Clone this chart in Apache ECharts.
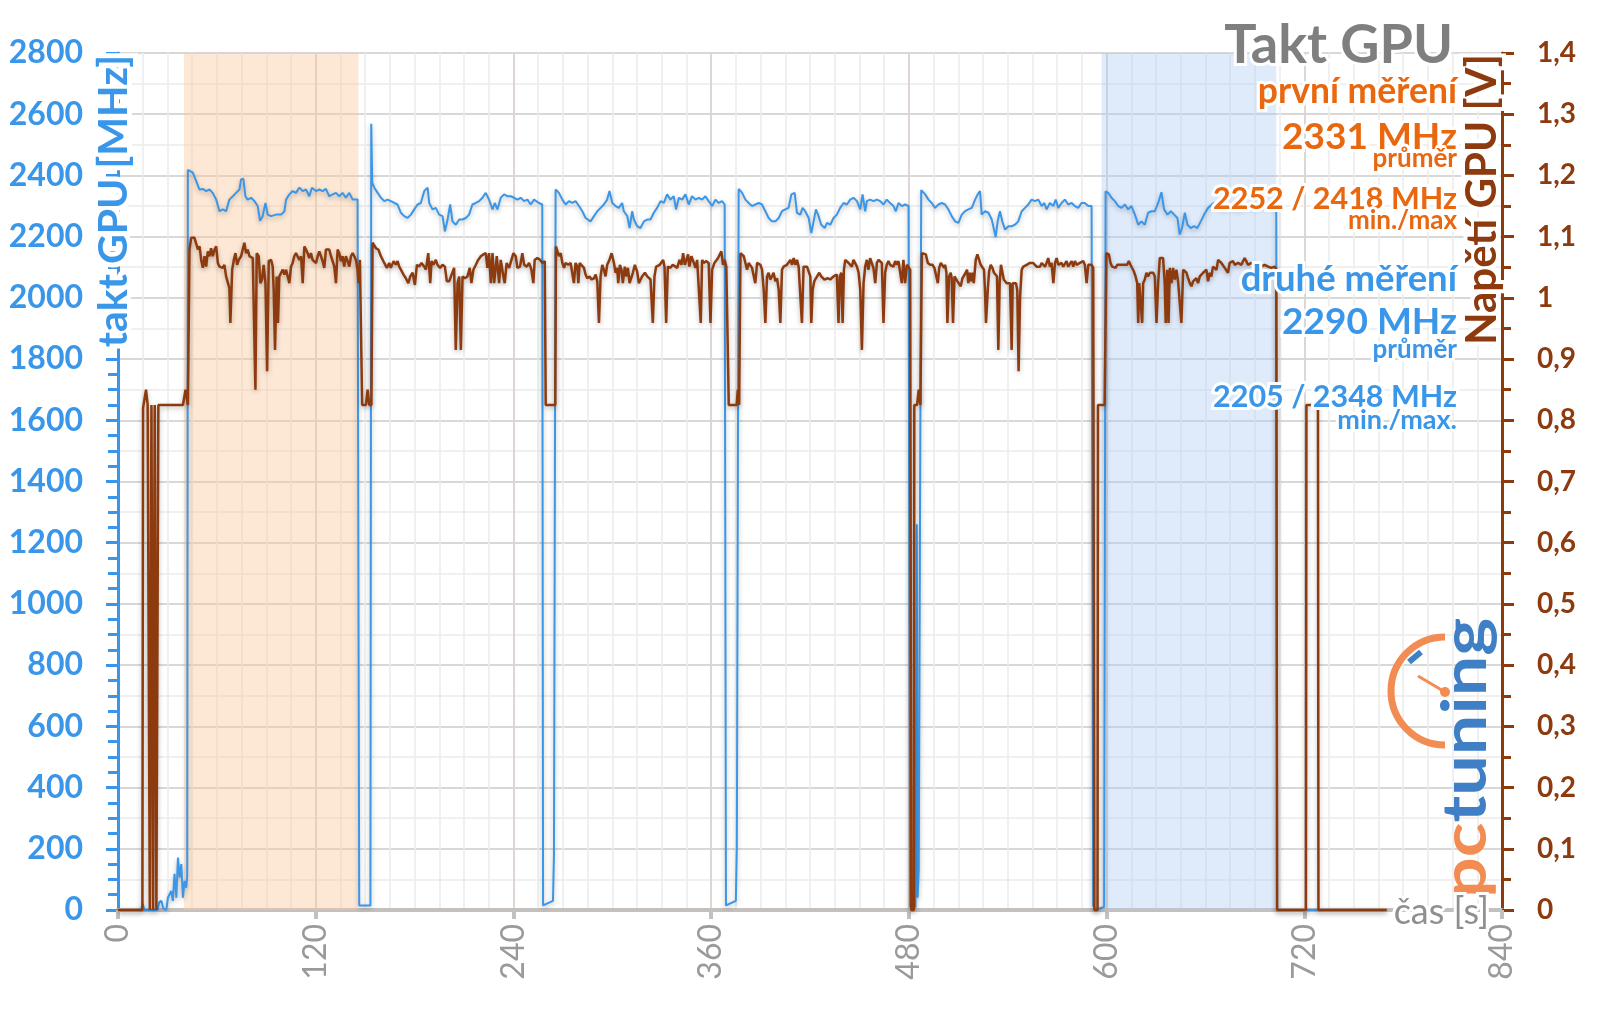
<!DOCTYPE html>
<html><head><meta charset="utf-8">
<script src="https://cdn.jsdelivr.net/npm/echarts@6/dist/echarts.min.js"></script>
<style>html,body{margin:0;padding:0;background:#fff}#chart{width:1600px;height:1009px}</style>
</head><body><div id="chart"></div>
<script>
// ---- data (time [s], value) ----
const clockSamples = [
[0,0],[14,0],[15,20],[16,0],[24,0],[25,25],[26.3,30],[27.5,5],[29.3,0],[30.3,40],[32.3,62],[33.3,30],[34.3,118],[35.4,40],[36.4,171],[37.4,106],[38.4,150],[39.4,40],[40.4,95],[41.4,73],[42,110],
[42.4,2418],[45.4,2409],[49.5,2354],[51.5,2356],[53.5,2349],[55.5,2354],[57.5,2343],[59.6,2321],[61.6,2283],[63.6,2289],[65.6,2283],[67.6,2321],[69.7,2332],[71.7,2343],[73.7,2354],[74.7,2387],[76.1,2389],[77.3,2332],[78.7,2321],[80.8,2327],[82.8,2316],[84.8,2300],[86.2,2252],[87.8,2267],[89.5,2310],[90.9,2272],[92.9,2267],[95.9,2272],[99,2272],[101,2283],[102,2321],[104,2338],[106,2349],[108,2343],[110.1,2360],[112.1,2349],[114.1,2354],[116.1,2332],[117.7,2360],[120.2,2349],[122.2,2354],[124.2,2349],[126.2,2356],[128.2,2332],[130.3,2338],[132.3,2343],[134.3,2332],[136.3,2343],[138.3,2327],[140.4,2343],[142.4,2321],[145.4,2321],
[146.4,15],[153.2,15],[153.7,2569],[154.3,2376],
[155.6,2360],[157.6,2343],[159.6,2327],[161.6,2316],[163.6,2321],[165.6,2316],[167.7,2310],[169.7,2305],[171.7,2278],[173.7,2267],[175.7,2261],[177.8,2272],[179.8,2289],[181.8,2305],[183.8,2310],[185.9,2349],[187.9,2360],[188.9,2310],[190.9,2289],[192.9,2294],[194.9,2272],[197,2267],[198.4,2217],[200,2255],[201.6,2305],[203,2250],[205,2239],[207.1,2256],[209.1,2256],[211.1,2261],[213.1,2272],[215.1,2305],[217.2,2310],[219.2,2316],[221.2,2327],[223.2,2343],[225.2,2321],[227.3,2289],[228.7,2310],[230.3,2289],[232.3,2327],[234.3,2338],[236.3,2332],[238.4,2332],[240.4,2327],[242.4,2321],[244.4,2327],[246.5,2316],[248.5,2321],[250.5,2305],[252.5,2321],[255.5,2310],[257.5,2305],
[258,15],[264,30],[264.6,180],
[265.6,2354],[267.6,2343],[269.7,2321],[271.7,2305],[273.7,2316],[275.7,2310],[277.7,2316],[279.8,2300],[281.8,2283],[283.8,2261],[286.8,2250],[288.9,2267],[290.9,2283],[292.9,2294],[294.9,2305],[296.9,2321],[298.3,2349],[300,2310],[302,2300],[304,2294],[306,2310],[307,2283],[309.1,2267],[310.5,2228],[312.1,2283],[313.1,2256],[315.1,2234],[317.1,2228],[319.2,2250],[321.2,2256],[323.2,2256],[325.2,2278],[327.2,2294],[329.3,2316],[331.3,2310],[333.3,2338],[335.3,2321],[337.3,2332],[338.7,2289],[340.4,2327],[342.4,2321],[344.4,2338],[346.4,2305],[348.4,2332],[350.5,2321],[352.5,2327],[354.5,2321],[356.5,2332],[358.5,2316],[360.6,2300],[362.6,2321],[364.6,2310],[366.6,2316],[368.2,2305],
[369,15],[375,30],[375.6,210],
[376.7,2356],[378.8,2343],[380.8,2321],[382.8,2310],[384.8,2300],[386.8,2305],[388.9,2310],[390.9,2305],[392.9,2283],[394.9,2261],[396.9,2250],[399,2250],[401,2261],[403,2283],[405,2289],[407,2294],[408.7,2338],[410.7,2343],[412.1,2278],[414.1,2272],[415.5,2294],[417.1,2283],[419.2,2261],[420.8,2212],[422.2,2250],[423.6,2289],[425.2,2267],[426.8,2239],[428.9,2228],[430.3,2245],[432.3,2239],[434.3,2261],[436.3,2272],[438.3,2294],[440.4,2310],[442.4,2305],[444.4,2321],[446.4,2327],[448.5,2316],[450.5,2289],[451.9,2338],[453.5,2283],[454.5,2316],[456.5,2321],[458.5,2316],[460.6,2321],[462.6,2316],[464.6,2305],[466.6,2321],[468.6,2310],[470.7,2300],[472.1,2283],[473.7,2310],[475.7,2300],[477.7,2305],[479.8,2300],
[480.8,10],[484,10],[484.8,1260],[485.3,40],[486,130],
[487.5,2352],[489.9,2338],[491.9,2321],[493.9,2310],[495.9,2294],[498,2305],[500,2310],[502,2305],[504,2289],[506,2267],[508.1,2250],[510.1,2245],[512.1,2272],[514.1,2283],[516.1,2289],[518.2,2294],[520.2,2321],[521.8,2338],[523.2,2349],[524.2,2272],[526.2,2283],[528.3,2278],[530.3,2256],[532.7,2199],[533.9,2250],[535.3,2283],[536.7,2250],[538.4,2223],[540.4,2234],[542.4,2234],[544.4,2239],[546.4,2250],[548.5,2283],[550.5,2294],[552.5,2305],[554.5,2321],[556.5,2316],[558.6,2321],[560.6,2300],[562.2,2310],[563.6,2289],[565.6,2310],[567.7,2300],[569.1,2321],[570.7,2294],[572.7,2310],[574.7,2321],[576.7,2305],[578.8,2310],[580.8,2300],[582.8,2294],[584.8,2310],[586.8,2310],[588.9,2300],[590.9,2300],
[591.9,15],[593,0],[598.5,10],
[599.4,2348],[601,2343],[603,2327],[605,2316],[607.1,2300],[609.1,2294],[611.1,2305],[613.1,2289],[615.1,2300],[617.2,2272],[619.2,2239],[621.2,2250],[623.2,2239],[625.2,2278],[627.3,2283],[629.3,2283],[631.3,2310],[633.3,2345],[634.9,2289],[637,2272],[639,2283],[641,2272],[643,2261],[644.4,2207],[645.8,2228],[647.5,2278],[649.1,2239],[651.1,2228],[653.1,2234],[655.1,2228],[657.2,2250],[659.2,2272],[661.6,2294],[665,2310],[670,2290],[675,2300],[680,2288],[685,2300],[690,2295],[695,2302],[700,2298],[703,2290],
[703.6,0],[770,0]
];

const voltSamples = [
[0,0],[14.8,0],[15.2,0.82],[17,0.85],[18,0.825],[19,0.825],[19.3,0],[20,0],[20.3,0.825],[21,0.825],[21.3,0],[22,0],[22.3,0.825],[23,0.825],[23.3,0],[24.2,0],[24.5,0.825],[39.4,0.825],[41,0.85],[42.4,0.825],
[43.4,1.079],[44.4,1.098],[46.4,1.098],[47.4,1.095],[48.5,1.079],[49.5,1.084],[50.5,1.062],[51.5,1.049],[52.5,1.068],[53.5,1.051],[54.5,1.076],[55.5,1.068],[56.5,1.081],[57.5,1.068],[58.6,1.079],[59.6,1.084],[60.6,1.057],[61.6,1.051],[62.6,1.054],[63.6,1.049],[64.6,1.054],[65.6,1.035],[66.6,1.032],[67.6,1.016],[68.2,0.959],[69.3,1.046],[70.3,1.062],[71.3,1.073],[72.3,1.054],[73.3,1.062],[74.7,1.068],[75.7,1.079],[76.7,1.09],[77.7,1.073],[78.7,1.079],[79.8,1.068],[81.8,1.065],[82.8,1.062],[83.4,0.85],[84.2,1.073],[85.4,1.068],[86.4,1.024],[87.4,1.03],[88.4,1.054],[89.5,1.024],[90.5,0.88],[91.5,1.06],[92.9,1.062],[93.9,1.051],[94.5,1.013],[95.3,0.915],[96.3,1.035],[97.1,0.959],[97.9,1.035],[99,1.041],[100,1.046],[101,1.038],[102,1.046],[103,1.049],[104,1.024],[105,1.051],[106,1.057],[107,1.068],[108,1.073],[109.1,1.071],[110.1,1.062],[111.1,1.068],[112.1,1.024],[113.1,1.084],[114.1,1.079],[115.1,1.073],[116.1,1.065],[117.1,1.073],[118.1,1.062],[119.2,1.065],[120.2,1.057],[121.2,1.068],[122.2,1.076],[123.2,1.068],[124.2,1.06],[125.2,1.049],[126.2,1.079],[127.2,1.076],[128.2,1.079],[129.3,1.068],[130.3,1.068],[131.3,1.051],[132.3,1.024],[133.3,1.079],[134.3,1.073],[135.3,1.06],[136.3,1.068],[137.3,1.051],[138.3,1.068],[139.4,1.06],[140.4,1.051],[141.4,1.068],[142.4,1.073],[143.4,1.068],[144.4,1.062],[145.4,1.046],[146,1.024],[146.8,1.062],[147.6,1.062],
[148.2,0.825],[150.5,0.825],[151.5,0.85],[152.5,0.825],[153.8,0.825],
[154.5,1.09],[155.1,1.09],[156.6,1.081],[158,1.079],[159.6,1.068],[161.6,1.057],[163.2,1.049],[164.6,1.057],[165.6,1.049],[167.3,1.06],[168.7,1.054],[169.7,1.06],[170.7,1.051],[171.7,1.046],[173.3,1.038],[174.7,1.032],[176.2,1.024],[177.4,1.035],[178.8,1.041],[180.2,1.021],[181.4,1.054],[182.8,1.051],[184.2,1.057],[185.9,1.051],[186.9,1.046],[188.3,1.073],[189.5,1.024],[190.3,1.06],[191.5,1.054],[192.9,1.062],[193.9,1.054],[195.5,1.049],[197,1.054],[198.4,1.051],[199.6,1.027],[201,1.027],[202,1.03],[204,1.049],[205,0.915],[206.1,1.024],[207.1,1.035],[208.1,0.915],[209.1,1.035],[210.5,1.032],[212.1,1.035],[213.5,1.049],[214.5,1.024],[215.7,1.046],[217.2,1.054],[218.6,1.062],[220.2,1.068],[221.8,1.071],[223.2,1.073],[224.2,1.049],[225.2,1.073],[226.3,1.024],[227.3,1.073],[228.3,1.024],[229.9,1.068],[231.3,1.024],[232.3,1.062],[233.9,1.035],[234.7,1.024],[235.9,1.057],[237.4,1.049],[238.8,1.062],[240,1.073],[241.4,1.068],[242.4,1.049],[244,1.051],[245.4,1.073],[246.5,1.054],[248.1,1.051],[249.5,1.057],[250.9,1.046],[252.1,1.024],[252.9,1.062],[254.5,1.065],[256.2,1.062],[257.6,1.057],[259,1.06],
[259.6,0.825],[265.4,0.825],
[265.8,1.084],[266.6,1.081],[267.6,1.068],[268.7,1.073],[269.7,1.057],[270.7,1.049],[271.7,1.057],[273.3,1.054],[274.7,1.057],[275.7,1.054],[276.7,1.024],[277.7,1.057],[278.8,1.051],[279.4,1.024],[280.2,1.057],[281.4,1.054],[282.8,1.049],[283.8,1.038],[284.8,1.032],[286.2,1.035],[287.4,1.03],[288.9,1.032],[289.9,1.038],[290.9,1.027],[291.9,0.959],[292.9,1.035],[293.9,1.054],[294.9,1.046],[295.9,1.035],[296.9,1.054],[298.3,1.062],[299.6,1.073],[301,1.057],[302,1.041],[303,1.049],[303.6,1.024],[304.6,1.054],[305.6,1.046],[306.4,1.024],[307.6,1.051],[308.4,1.035],[309.5,1.049],[310.5,1.024],[311.7,1.021],[312.5,1.041],[313.7,1.054],[315.1,1.043],[316.1,1.024],[317.1,1.027],[318.1,1.035],[319.8,1.041],[321.2,1.035],[322.2,1.038],[323.2,1.03],[324.6,0.959],[325.6,1.035],[326.6,1.051],[327.8,1.049],[328.8,1.054],[329.9,1.057],[330.9,1.062],[331.7,1.051],[332.7,0.959],[333.7,1.051],[335.3,1.049],[336.7,1.054],[337.9,1.051],[339.4,1.049],[340.8,1.062],[342,1.054],[343,1.073],[344,1.054],[345,1.062],[346,1.071],[346.8,1.051],[348,1.068],[349.5,1.057],[350.5,1.049],[351.5,1.062],[352.5,1.065],[353.7,0.959],[354.5,1.062],[355.5,1.057],[356.9,1.06],[358.5,1.057],[359.6,0.959],[360.6,1.046],[362,1.057],[363,1.054],[364.2,1.065],[365.2,1.068],[366.2,1.076],[367.2,1.054],[368.2,1.062],[369.2,1.051],[370.1,1.054],
[370.7,0.825],[375.5,0.825],[376.2,0.85],[377,0.825],
[377.8,1.073],[378.8,1.073],[379.8,1.068],[380.8,1.057],[381.8,1.046],[382.8,1.057],[383.8,1.054],[384.8,1.049],[385.8,1.051],[386.8,1.024],[387.9,1.057],[388.9,1.057],[389.9,1.054],[390.9,1.046],[391.9,1.013],[392.9,0.959],[393.9,1.035],[394.9,1.041],[395.9,1.03],[396.9,1.035],[397.9,1.041],[399,1.027],[400,1.032],[401,1.013],[402,0.959],[403,1.046],[404,1.051],[405,1.049],[406,1.054],[407,1.057],[408.1,1.062],[409.1,1.054],[410.1,1.065],[411.1,1.054],[412.1,1.062],[413.1,1.051],[414.1,1.049],[415.1,0.959],[416.1,1.051],[417.1,1.054],[418.2,1.051],[419.2,1.043],[420.2,1.035],[420.8,0.959],[421.6,1.013],[422.6,1.027],[423.6,1.032],[424.8,1.03],[425.6,1.041],[426.8,1.035],[427.6,1.032],[428.7,1.03],[429.7,1.027],[430.9,1.032],[432.3,1.03],[433.3,1.032],[434.3,1.035],[435.3,1.035],[436.3,1.038],[437.3,0.959],[438.1,1.035],[439,1.041],[439.8,0.959],[440.6,1.046],[441.4,1.062],[442.4,1.062],[443.4,1.057],[444.4,1.06],[445.4,1.051],[446.4,1.062],[447.4,1.065],[448.5,1.051],[449.5,1.041],[450.5,1.013],[451.5,0.915],[452.5,1.024],[453.5,1.051],[454.5,1.062],[455.5,1.046],[456.5,1.065],[457.5,1.062],[458.5,1.049],[459.6,1.024],[460.6,1.057],[461.6,1.062],[462.6,1.065],[463.6,1.057],[464.6,0.959],[465.6,1.041],[466.6,1.054],[467.6,1.06],[468.6,1.054],[469.7,1.057],[470.7,1.051],[471.7,1.06],[472.7,1.054],[473.7,1.06],[474.7,1.057],[475.7,1.024],[476.7,1.062],[477.7,1.024],[478.8,1.054],[479.8,1.057],[480.8,1.046],
[481.5,0],[483,0],[483.3,0.825],[485,0.825],[486,0.85],[487,0.825],
[487.9,1.073],[490.3,1.071],[491.5,1.057],[492.9,1.054],[494.3,1.054],[495.5,1.049],[496.3,1.051],[497.6,1.024],[498.4,1.049],[499.4,1.057],[500.4,1.06],[501.4,1.049],[502,1.054],[502.8,1.041],[503.4,0.959],[504.4,1.035],[505.4,1.041],[506,1.032],[506.8,0.959],[507.7,1.035],[508.5,1.032],[509.5,1.027],[510.5,1.024],[511.5,1.019],[512.5,1.032],[513.5,1.035],[514.5,1.041],[515.3,1.046],[516.1,1.024],[516.9,1.041],[517.8,1.027],[518.6,1.041],[519.4,1.024],[520.6,1.062],[521.6,1.071],[522.6,1.073],[523.6,1.054],[524.6,1.051],[525.6,1.046],[526.2,1.013],[526.8,0.959],[527.9,1.013],[528.7,1.043],[529.7,1.054],[530.7,1.049],[531.7,1.041],[532.7,1.038],[533.5,1.035],[534.3,0.915],[535.1,1.024],[535.9,1.054],[536.7,1.051],[537.6,1.03],[538.4,1.027],[539.4,1.024],[540.4,1.027],[541.4,1.024],[542.4,0.915],[543,1.024],[544,1.024],[545,1.024],[545.8,1.013],[546.6,0.88],[547.5,1.002],[548.5,1.046],[549.5,1.051],[550.5,1.054],[551.5,1.054],[552.5,1.051],[553.5,1.057],[554.5,1.054],[555.5,1.057],[556.5,1.054],[557.5,1.051],[558.6,1.054],[559.6,1.051],[560.6,1.057],[561.6,1.054],[562.6,1.051],[563.6,1.057],[564.6,1.065],[565.6,1.051],[566.6,1.057],[567.7,1.024],[568.7,1.057],[569.7,1.065],[570.7,1.054],[571.7,1.051],[572.7,1.057],[573.7,1.051],[574.7,1.054],[575.7,1.06],[576.7,1.051],[577.8,1.054],[578.8,1.06],[579.8,1.051],[580.8,1.06],[581.8,1.054],[582.8,1.051],[583.8,1.057],[584.8,1.054],[585.8,1.06],[586.8,1.054],[587.9,1.024],[588.9,1.054],[589.9,1.051],[590.9,1.054],[591.9,1.049],
[592.6,0],[594.5,0],[594.8,0.825],[598.8,0.825],
[599.9,1.073],[601.4,1.071],[602.4,1.057],[603.4,1.051],[604.4,1.054],[605.4,1.049],[606.5,1.054],[607.5,1.051],[608.5,1.054],[609.5,1.051],[610.5,1.054],[611.5,1.057],[612.5,1.054],[613.5,1.06],[614.5,1.054],[615.5,1.057],[616.6,1.043],[617.6,1.035],[618.6,1.024],[619.2,0.959],[619.8,1.024],[620.8,1.027],[621.6,0.959],[622.2,1.024],[623.2,1.03],[624.2,1.041],[625.2,1.035],[626.3,1.041],[627.3,1.038],[628.3,1.041],[629.3,1.035],[630.3,0.959],[631.3,1.024],[632.3,1.065],[633.3,1.068],[634.3,1.065],[635.3,1.024],[635.9,0.959],[636.8,1.046],[637.6,0.959],[638.4,1.049],[639.4,1.024],[640.4,1.049],[641.4,1.03],[642.4,1.046],[643.4,1.027],[644.4,1.024],[645.4,0.959],[646.5,1.046],[647.5,1.049],[648.5,1.041],[649.5,1.032],[650.5,1.024],[651.5,1.019],[652.5,1.027],[653.5,1.03],[654.5,1.032],[655.5,1.024],[656.6,1.035],[657.6,1.032],[658.6,1.041],[659.6,1.043],[660.6,1.046],[661.6,1.027],[662.6,1.041],[663.6,1.035],[664.6,1.051],[665.6,1.054],[666.7,1.046],[667.7,1.062],[668.7,1.065],[669.7,1.057],[670.7,1.054],[671.7,1.049],[672.7,1.051],[673.7,1.041],[674.7,1.057],[675.7,1.054],[676.7,1.06],[677.8,1.054],[678.8,1.051],[679.8,1.057],[680.8,1.06],[681.8,1.054],[682.8,1.057],[683.8,1.065],[684.8,1.06],[685.8,1.054],[687.9,1.057],[689.9,1.054],[691.9,1.057],[693.9,1.051],[695.9,1.054],[698,1.051],[700,1.049],[702,1.051],[703,1.046],
[703.5,0],[721,0],[721.3,0.825],[728.3,0.825],[728.6,0],[770,0]
];

// measurement windows [start, end] in seconds
const window1 = [40, 146];
const window2 = [597, 703];

const titleText = 'Takt GPU';
const run1Texts = ['první měření', '2331 MHz', 'průměr', '2252 / 2418 MHz', 'min./max'];
const run2Texts = ['druhé měření', '2290 MHz', 'průměr', '2205 / 2348 MHz', 'min./max.'];
const leftAxisName = 'takt GPU [MHz]';
const rightAxisName = 'Napětí GPU [V]';
const xAxisName = 'čas [s]';

const BLUE = '#3a96e8', BROWN = '#8c3a0e', ORANGE = '#e8670f', GRAY = '#7f7f7f';
const F = 'Lato';

const chart = echarts.init(document.getElementById('chart'), null, {renderer: 'canvas'});

function label(text, x, y, size, color, extra, halo) {
  return Object.assign({
    type: 'text', x: x, y: y, z: 100,
    style: {text: text, font: 'bold ' + size + 'px ' + F, fill: color, align: 'right',
      verticalAlign: 'middle', stroke: '#fff', lineWidth: halo || 6}
  }, extra || {});
}

const lineShadow = {shadowColor: 'rgba(0,0,0,0.28)', shadowBlur: 5, shadowOffsetY: 2};

const option = {
  animation: false,
  backgroundColor: '#fff',
  grid: {left: 118, right: 98, top: 53, bottom: 99},
  xAxis: {
    type: 'value', min: 0, max: 840, interval: 120,
    axisLine: {show: true, onZero: false, lineStyle: {color: '#c4c0bd', width: 4}},
    axisTick: {show: true, length: 9, lineStyle: {color: '#c4c0bd', width: 4}},
    axisLabel: {rotate: 90, margin: 14, color: '#9a9a9a', fontSize: 32, fontFamily: F},
    splitLine: {show: true, lineStyle: {color: '#ddd6d2', width: 2}},
    minorTick: {show: false, splitNumber: 8},
    minorSplitLine: {show: true, lineStyle: {color: '#ececec', width: 1.5}}
  },
  yAxis: [
    {
      type: 'value', position: 'left', min: 0, max: 2800, interval: 200,
      axisLine: {show: true, lineStyle: {color: BLUE, width: 3}},
      axisTick: {show: true, length: 12, lineStyle: {color: BLUE, width: 3}},
      minorTick: {show: true, splitNumber: 4, length: 10, lineStyle: {color: BLUE, width: 3}},
      axisLabel: {margin: 35, color: BLUE, fontSize: 32, fontWeight: 'bold', fontFamily: F,
        formatter: v => String(Math.round(v))},
      splitLine: {show: true, lineStyle: {color: '#d8d8d8', width: 2}}
    },
    {
      type: 'value', position: 'right', min: 0, max: 1.4, interval: 0.1,
      axisLine: {show: true, lineStyle: {color: BROWN, width: 3}},
      axisTick: {show: true, length: 12, lineStyle: {color: BROWN, width: 3}},
      minorTick: {show: true, splitNumber: 2, length: 9, lineStyle: {color: BROWN, width: 3}},
      axisLabel: {margin: 35, color: BROWN, fontSize: 28, fontWeight: 'bold', fontFamily: F,
        formatter: v => String(Math.round(v * 10) / 10).replace('.', ',')},
      splitLine: {show: false},
      minorSplitLine: {show: true, lineStyle: {color: '#ebebeb', width: 1.5}}
    }
  ],
  series: [
    {
      type: 'line', data: [], z: 1, silent: true,
      markArea: {
        silent: true,
        data: [
          [{xAxis: window1[0], itemStyle: {color: 'rgba(250,200,155,0.42)'}}, {xAxis: window1[1]}],
          [{xAxis: window2[0], itemStyle: {color: 'rgba(170,202,245,0.38)'}}, {xAxis: window2[1]}]
        ]
      }
    },
    {
      type: 'line', name: 'takt', yAxisIndex: 0, data: clockSamples, showSymbol: false, clip: false, z: 3,
      lineStyle: Object.assign({color: BLUE, width: 2}, lineShadow)
    },
    {
      type: 'line', name: 'napětí', yAxisIndex: 1, data: voltSamples, showSymbol: false, clip: false, z: 4,
      lineStyle: Object.assign({color: BROWN, width: 2.5}, lineShadow)
    }
  ],
  graphic: [
    label(titleText, 1453, 46, 54, GRAY),
    label(run1Texts[0], 1457, 92, 35.5, ORANGE),
    label(run1Texts[1], 1457, 137, 37, ORANGE),
    label(run1Texts[2], 1457, 159, 26, ORANGE),
    label(run1Texts[3], 1457, 199, 30.5, ORANGE),
    label(run1Texts[4], 1457, 221, 26, ORANGE),
    label(run2Texts[0], 1457, 279, 36.5, BLUE),
    label(run2Texts[1], 1457, 322, 37, BLUE),
    label(run2Texts[2], 1457, 350, 26, BLUE),
    label(run2Texts[3], 1457, 397, 30.5, BLUE),
    label(run2Texts[4], 1457, 420, 27, BLUE),
    label(leftAxisName, 114, 55, 41, BLUE, {rotation: Math.PI / 2}, 10),
    label(rightAxisName, 1482, 54, 42, BROWN, {rotation: Math.PI / 2}, 8),
    {
      type: 'text', x: 1489, y: 912, z: 100,
      style: {text: xAxisName, font: '36px ' + F, fill: '#8f8f8f', align: 'right', verticalAlign: 'middle',
        stroke: '#fff', lineWidth: 6}
    },
    // pctuning logo
    {
      type: 'arc', z: 90,
      shape: {cx: 1445, cy: 691, r: 54, startAngle: Math.PI / 2, endAngle: Math.PI * 1.5, clockwise: true},
      style: {stroke: '#f28c52', lineWidth: 7, fill: null}
    },
    {type: 'line', z: 90, shape: {x1: 1445, y1: 692, x2: 1418, y2: 676}, style: {stroke: '#f28c52', lineWidth: 3}},
    {type: 'circle', z: 90, shape: {cx: 1445, cy: 692, r: 5}, style: {fill: '#f28c52'}},
    {type: 'line', z: 91, shape: {x1: 1409, y1: 662, x2: 1421, y2: 652}, style: {stroke: '#3f7fc6', lineWidth: 6}},
    {
      type: 'text', x: 1466, y: 898, z: 92, rotation: Math.PI / 2, scaleX: 1.16,
      style: {
        text: '{a|pc}{b|tuning}', font: 'bold 62px ' + F, align: 'left', verticalAlign: 'middle',
        rich: {a: {fill: '#f28c52', font: 'bold 62px ' + F}, b: {fill: '#3f7fc6', font: 'bold 62px ' + F}}
      }
    }
  ]
};
chart.setOption(option);
</script></body></html>
